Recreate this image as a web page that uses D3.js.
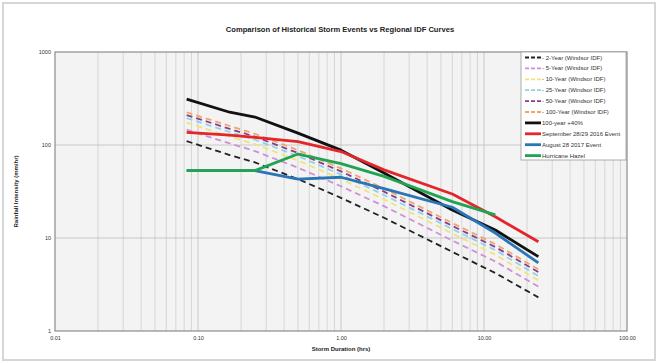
<!DOCTYPE html>
<html>
<head>
<meta charset="utf-8">
<script src="https://cdn.jsdelivr.net/npm/d3@7"></script>
<style>
  body { margin: 0; background: #fff; }
  text { font-family: "Liberation Sans", Arial, sans-serif; }
</style>
</head>
<body>
<svg id="chart"></svg>
<script>
// durations (hrs): 5, 10, 15, 30 min, 1, 2, 6, 12, 24 h
const durations = [0.0833, 0.1667, 0.25, 0.5, 1, 2, 6, 12, 24];

const idf2 = [110, 78, 65, 43, 27, 16.5, 7.1, 4.2, 2.3];
const idf5 = [146, 104, 86, 57, 36, 22, 9.4, 5.6, 3.0];
const idf10 = [174, 123, 102, 68, 43, 26, 11.2, 6.6, 3.5];
const idf25 = [195, 138, 114, 76, 48, 29, 12.5, 7.4, 3.9];
const idf50 = [210, 149, 123, 82, 52, 31.5, 13.5, 8.0, 4.3];
const idf100 = [225, 160, 132, 88, 56, 34, 14.5, 8.6, 4.6];
const idf100plus40 = [312, 225, 200, 134, 88, 50, 20, 12.2, 6.3];

const sept2016 = [137, 128, 121, 109, 85, 54, 29.7, 16.9, 9.1];
const aug2017Durations = [0.0833, 0.25, 0.5, 1, 2, 6, 12, 24];
const aug2017 = [53, 53, 43, 45, 34, 21.4, 11.3, 5.4];
const hazelDurations = [0.0833, 0.25, 0.5, 1, 2, 6, 12];
const hazel = [53, 53, 80, 63, 46, 24.6, 17.7];

const xTicks = [0.01, 0.1, 1, 10, 100];
const yTicks = [1, 10, 100, 1000];

const series = [
  { name: "2-Year (Windsor IDF)", x: durations, y: idf2, color: "#222222", dash: "6,4", w: 1.8 },
  { name: "5-Year (Windsor IDF)", x: durations, y: idf5, color: "#cf8fd6", dash: "6,4", w: 1.8 },
  { name: "10-Year (Windsor IDF)", x: durations, y: idf10, color: "#f3e27a", dash: "6,4", w: 1.8 },
  { name: "25-Year (Windsor IDF)", x: durations, y: idf25, color: "#8fd3ea", dash: "6,4", w: 1.8 },
  { name: "50-Year (Windsor IDF)", x: durations, y: idf50, color: "#8a3d8c", dash: "6,4", w: 1.8 },
  { name: "100-Year (Windsor IDF)", x: durations, y: idf100, color: "#f0a56a", dash: "6,4", w: 1.8 },
  { name: "100-year +40%", x: durations, y: idf100plus40, color: "#111111", dash: null, w: 2.8 },
  { name: "September 28/29 2016 Event", x: durations, y: sept2016, color: "#e3262b", dash: null, w: 2.8 },
  { name: "August 28 2017 Event", x: aug2017Durations, y: aug2017, color: "#2a74b8", dash: null, w: 2.8 },
  { name: "Hurricane Hazel", x: hazelDurations, y: hazel, color: "#22a352", dash: null, w: 2.8 }
];

const width = 659, height = 363;
const margin = { left: 55, right: 32, top: 52, bottom: 32 };

const svg = d3.select("#chart").attr("width", width).attr("height", height);

// outer frame
svg.append("rect")
  .attr("x", 3).attr("y", 3)
  .attr("width", width - 7).attr("height", height - 6)
  .attr("fill", "#fff")
  .attr("stroke", "#d6d6d6").attr("stroke-width", 2);

const x = d3.scaleLog().domain([0.01, 100]).range([margin.left, width - margin.right]);
const y = d3.scaleLog().domain([1, 1000]).range([height - margin.bottom, margin.top]);

// plot background
svg.append("rect")
  .attr("x", x(0.01)).attr("y", y(1000))
  .attr("width", x(100) - x(0.01)).attr("height", y(1) - y(1000))
  .attr("fill", "#f3f3f3");

// vertical gridlines (minor + major)
const xGrid = [];
for (let d = 0.01; d < 100; d *= 10) {
  for (let k = 1; k <= 9; k++) xGrid.push(+(d * k).toPrecision(3));
}
svg.append("g")
  .selectAll("line")
  .data(xGrid.filter(v => v > 0.01))
  .enter().append("line")
  .attr("x1", d => x(d)).attr("x2", d => x(d))
  .attr("y1", y(1)).attr("y2", y(1000))
  .attr("stroke", d => xTicks.includes(d) ? "#bdbdbd" : "#cfcfcf")
  .attr("stroke-width", 0.8);

// horizontal gridlines (major only)
svg.append("g")
  .selectAll("line")
  .data(yTicks.filter(v => v > 1 && v < 1000))
  .enter().append("line")
  .attr("x1", x(0.01)).attr("x2", x(100))
  .attr("y1", d => y(d)).attr("y2", d => y(d))
  .attr("stroke", "#bdbdbd")
  .attr("stroke-width", 0.8);

// plot border
svg.append("rect")
  .attr("x", x(0.01)).attr("y", y(1000))
  .attr("width", x(100) - x(0.01)).attr("height", y(1) - y(1000))
  .attr("fill", "none")
  .attr("stroke", "#8c8c8c").attr("stroke-width", 1.2);

// axes
const xAxis = svg.append("g")
  .attr("transform", `translate(0,${y(1)})`)
  .call(d3.axisBottom(x).tickValues(xTicks).tickFormat(d3.format(".2f")).tickSize(0).tickPadding(5));
const yAxis = svg.append("g")
  .attr("transform", `translate(${x(0.01)},0)`)
  .call(d3.axisLeft(y).tickValues(yTicks).tickFormat(d3.format("d")).tickSize(0).tickPadding(4));
[xAxis, yAxis].forEach(a => {
  a.select(".domain").remove();
  a.selectAll("text").attr("font-size", 5.5).attr("fill", "#333")
    .style("font-family", "'Liberation Sans', Arial, sans-serif");
});

// series lines
const line = d3.line().x(d => x(d[0])).y(d => y(d[1]));
svg.append("g")
  .selectAll("path")
  .data(series)
  .enter().append("path")
  .attr("d", s => line(s.x.map((v, i) => [v, s.y[i]])))
  .attr("fill", "none")
  .attr("stroke", s => s.color)
  .attr("stroke-width", s => s.w)
  .attr("stroke-dasharray", s => s.dash)
  .attr("stroke-linejoin", "round");

// title and axis labels
svg.append("text")
  .attr("x", 340).attr("y", 32)
  .attr("text-anchor", "middle")
  .attr("font-size", 7.6).attr("font-weight", "bold").attr("fill", "#222")
  .text("Comparison of Historical Storm Events vs Regional IDF Curves");

svg.append("text")
  .attr("x", x(1)).attr("y", 351)
  .attr("text-anchor", "middle")
  .attr("font-size", 6).attr("font-weight", "bold").attr("fill", "#222")
  .text("Storm Duration (hrs)");

svg.append("text")
  .attr("transform", `translate(18,${y(31.6)}) rotate(-90)`)
  .attr("text-anchor", "middle")
  .attr("font-size", 6).attr("font-weight", "bold").attr("fill", "#222")
  .text("Rainfall Intensity (mm/hr)");

// legend
const lg = svg.append("g").attr("transform", "translate(521,52)");
lg.append("rect")
  .attr("width", 105).attr("height", 108)
  .attr("fill", "#fff")
  .attr("stroke", "#9a9a9a").attr("stroke-width", 0.8);

const items = lg.selectAll("g.item")
  .data(series)
  .enter().append("g")
  .attr("class", "item")
  .attr("transform", (d, i) => `translate(0,${5.5 + i * 10.9})`);

items.append("line")
  .attr("x1", 4).attr("x2", 20)
  .attr("stroke", d => d.color)
  .attr("stroke-width", d => d.w)
  .attr("stroke-dasharray", d => d.dash ? "4,2" : null);

items.append("text")
  .attr("x", 21).attr("y", 2)
  .attr("font-size", 6).attr("fill", "#333")
  .text(d => (d.dash ? "- " : "") + d.name);
</script>
</body>
</html>
